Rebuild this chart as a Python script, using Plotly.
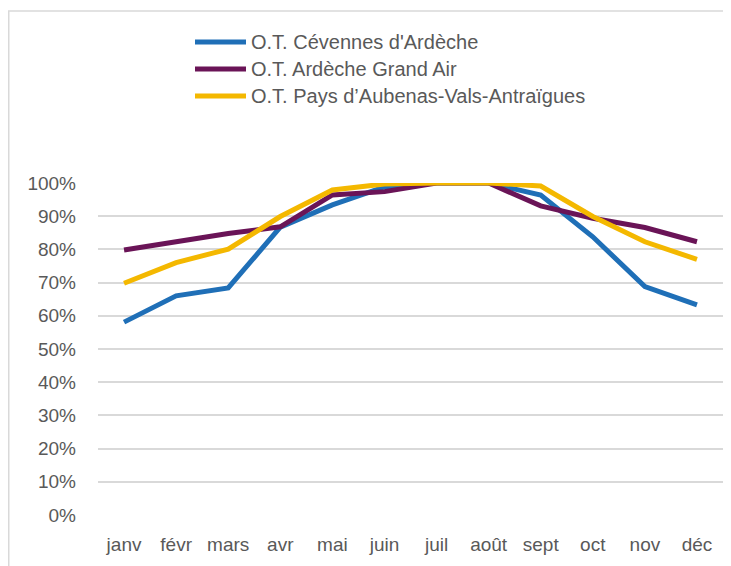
import plotly.graph_objects as go

months = ["janv", "févr", "mars", "avr", "mai", "juin", "juil", "août", "sept", "oct", "nov", "déc"]
cevennes = [0.581, 0.660, 0.684, 0.867, 0.934, 0.988, 1.0, 1.0, 0.964, 0.838, 0.688, 0.633]
grand_air = [0.798, 0.823, 0.848, 0.868, 0.964, 0.974, 1.0, 1.0, 0.931, 0.894, 0.866, 0.823]
aubenas = [0.698, 0.760, 0.801, 0.899, 0.979, 0.997, 1.0, 1.0, 0.991, 0.899, 0.823, 0.770]
y_ticks = [0, 0.1, 0.2, 0.3, 0.4, 0.5, 0.6, 0.7, 0.8, 0.9, 1.0]
y_labels = ["0%", "10%", "20%", "30%", "40%", "50%", "60%", "70%", "80%", "90%", "100%"]

series = [
    ("O.T. Cévennes d'Ardèche", cevennes, "#1F6FB7"),
    ("O.T. Ardèche Grand Air", grand_air, "#6A1457"),
    ("O.T. Pays d’Aubenas-Vals-Antraïgues", aubenas, "#F4B800"),
]

fig = go.Figure()
for name, vals, color in series:
    fig.add_trace(go.Scatter(
        x=months, y=vals, name=name, mode="lines",
        line=dict(color=color, width=5), cliponaxis=False, showlegend=False,
    ))

# page body has an 8px margin; screen coords = figure coords + 8
OFF = 8
W, H = 731, 566
L, T = 98 - OFF, 183 - OFF
R = W - (723 - OFF)
B = H - (515 - OFF)
pw, ph = W - L - R, H - T - B


def px(sx):
    return (sx - OFF - L) / pw


def py(sy):
    return (H - B - (sy - OFF)) / ph


border = dict(color="#D9D9D9", width=1.5)
shapes = [
    dict(type="line", xref="paper", yref="paper",
         x0=px(OFF), x1=px(OFF + W), y0=py(11), y1=py(11), line=border, layer="below"),
    dict(type="line", xref="paper", yref="paper",
         x0=px(OFF + 0.75), x1=px(OFF + 0.75), y0=py(11), y1=py(OFF + H), line=border, layer="below"),
]
annotations = []
legend_rows = [42, 69, 96]
for (name, vals, color), sy in zip(series, legend_rows):
    shapes.append(dict(
        type="line", xref="paper", yref="paper",
        x0=px(195), x1=px(246), y0=py(sy), y1=py(sy),
        line=dict(color=color, width=5),
    ))
    annotations.append(dict(
        xref="paper", yref="paper", x=px(249), y=py(sy),
        xanchor="left", yanchor="middle", showarrow=False, text=name,
        font=dict(size=20, color="#595959"),
    ))

fig.update_layout(
    width=W, height=H,
    margin=dict(l=L, r=R, t=T, b=B, pad=0),
    paper_bgcolor="white", plot_bgcolor="white",
    font=dict(family="Liberation Sans, Arial, sans-serif", color="#595959", size=18),
    showlegend=False,
    xaxis=dict(
        type="category", showgrid=False, zeroline=False, showline=False,
        tickfont=dict(family="Liberation Sans Narrow, Arial Narrow, sans-serif", size=19, color="#595959"),
        ticks="", range=[-0.5, 11.5], fixedrange=True, ticklabelstandoff=16,
    ),
    yaxis=dict(
        range=[0, 1], tickvals=y_ticks, ticktext=y_labels,
        showgrid=True, gridcolor="#D9D9D9", gridwidth=1.5,
        zeroline=False, showline=False, ticks="",
        tickfont=dict(size=19, color="#595959"), ticklabelstandoff=21,
        fixedrange=True,
    ),
    shapes=shapes,
    annotations=annotations,
)

fig.write_html("out.html")
